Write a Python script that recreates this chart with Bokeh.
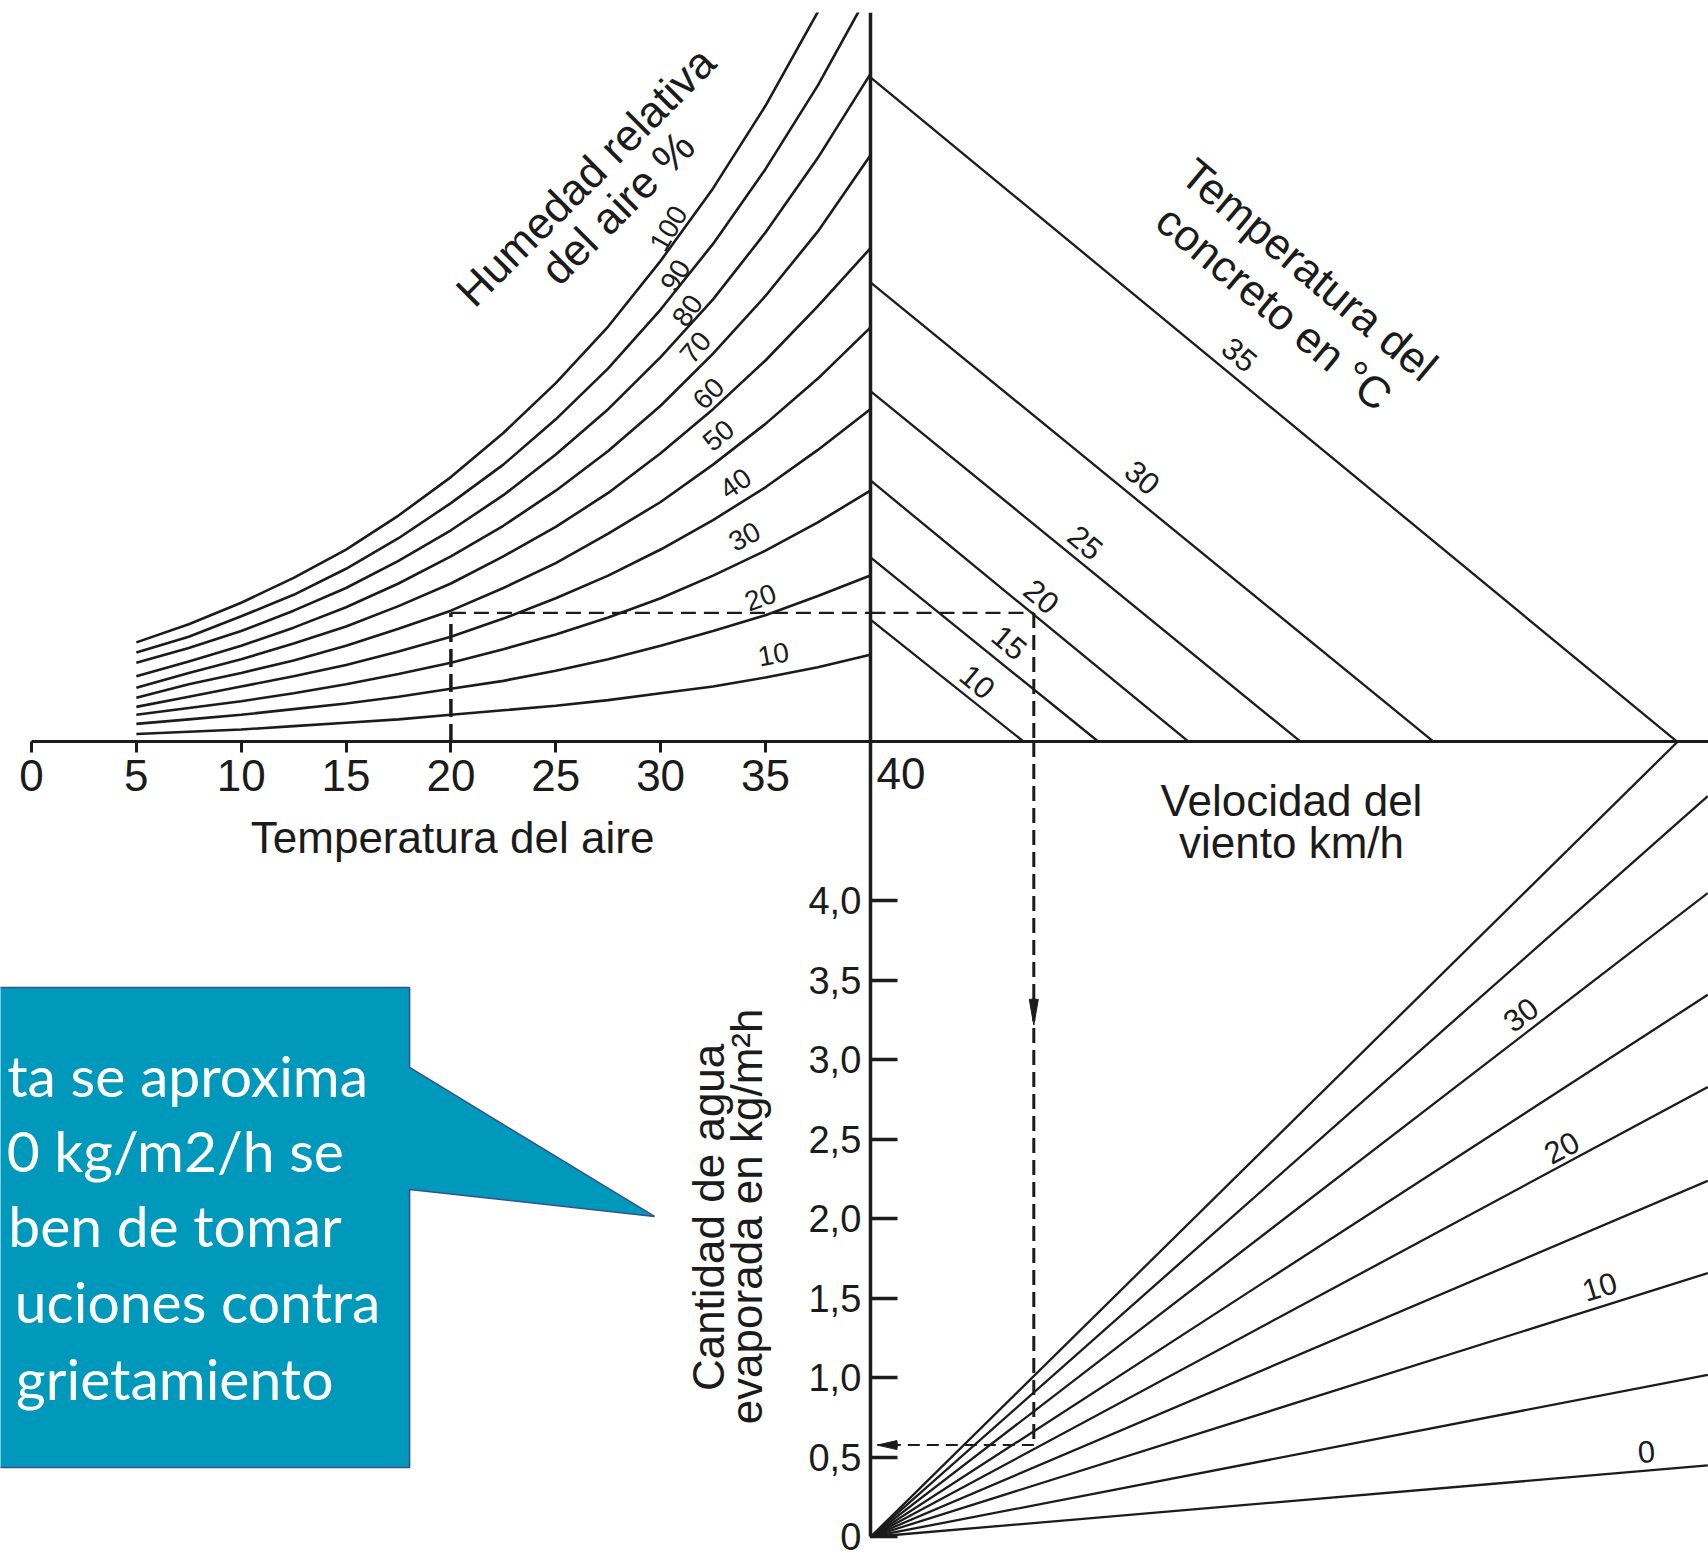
from bokeh.plotting import figure
from bokeh.models import (Range1d, LinearAxis, FixedTicker, Label,
                          CustomJSTickFormatter, ColumnDataSource)
from bokeh.embed import file_html
from bokeh.resources import INLINE
from bokeh.core.properties import value

air_temperature = [5, 7.5, 10, 12.5, 15, 17.5, 20, 22.5, 25, 27.5, 30, 32.5, 35, 37.5, 40]  # °C

# vapour pressure of the air (hPa) along each relative-humidity curve
vp_rh_10 = [0.7, 0.9, 1.1, 1.4, 1.7, 2.0, 2.4, 2.8, 3.2, 3.7, 4.3, 4.9, 5.7, 6.6, 7.7]
vp_rh_20 = [1.6, 2.0, 2.4, 2.9, 3.4, 4.0, 4.7, 5.4, 6.3, 7.3, 8.5, 9.8, 11.2, 12.9, 14.7]
vp_rh_30 = [2.4, 3.0, 3.6, 4.3, 5.1, 6.0, 7.0, 8.2, 9.5, 11.0, 12.7, 14.7, 16.9, 19.4, 22.2]
vp_rh_40 = [3.1, 4.0, 4.9, 5.8, 6.8, 8.0, 9.3, 10.9, 12.7, 14.7, 17.0, 19.6, 22.5, 25.8, 29.4]
vp_rh_50 = [3.9, 5.1, 6.1, 7.2, 8.5, 10.0, 11.6, 13.6, 15.8, 18.4, 21.2, 24.5, 28.1, 32.1, 36.6]
vp_rh_60 = [4.8, 6.1, 7.3, 8.7, 10.2, 12.0, 14.0, 16.4, 19.0, 22.0, 25.5, 29.4, 33.7, 38.5, 43.6]
vp_rh_70 = [5.8, 7.1, 8.5, 10.1, 11.9, 14.0, 16.4, 19.1, 22.2, 25.7, 29.7, 34.3, 39.4, 45.1, 51.8]
vp_rh_80 = [7.0, 8.3, 9.8, 11.6, 13.6, 16.0, 18.7, 21.8, 25.4, 29.4, 34.0, 39.1, 45.0, 51.6, 59.0]
vp_rh_90 = [7.9, 9.3, 11.1, 13.0, 15.3, 18.0, 21.1, 24.5, 28.5, 33.0, 38.2, 44.0, 50.6, 58.0, 66.4]
vp_rh_100 = [8.8, 10.4, 12.3, 14.5, 17.0, 20.0, 23.4, 27.3, 31.7, 36.7, 42.5, 48.9, 56.2, 64.5, 73.8]
relative_humidity = [10, 20, 30, 40, 50, 60, 70, 80, 90, 100]

concrete_temperature = [10, 15, 20, 25, 30, 35]            # °C
concrete_vp_start = [10.8, 16.3, 23.1, 31.0, 40.6, 58.7]    # hPa, on the vertical axis
concrete_dvp_end = [11.1, 16.5, 23.0, 31.1, 40.7, 58.3]     # hPa difference, on the horizontal axis

wind_speed = [0, 5, 10, 15, 20, 25, 30, 35, 40]             # km/h
wind_dvp_end = [60.5, 60.5, 60.5, 60.5, 60.5, 60.5, 60.5, 60.5, 58.3]
wind_evap_end = [0.45, 1.02, 1.66, 2.24, 2.83, 3.41, 4.05, 4.66, 5.0]

temp_ticks = [0, 5, 10, 15, 20, 25, 30, 35]
evap_ticks = [0, 0.5, 1.0, 1.5, 2.0, 2.5, 3.0, 3.5, 4.0]
evap_tick_labels = ["0", "0,5", "1,0", "1,5", "2,0", "2,5", "3,0", "3,5", "4,0"]

# worked example (dashed path)
example_air_temp = 20
example_vp = 11.4
example_dvp = 11.8
example_evap = 0.578

callout_lines = ["ta se aproxima", "0 kg/m2/h se", "ben de tomar",
                 "uciones contra", "grietamiento"]

# ---------------- layout (scales of the four quadrants) ----------------
T_MIN, T_MAX = -1.478, 79.97        # air temperature
E_MIN, E_MAX = -0.129, 9.588        # evaporation kg/m2h
DVP_MIN, DVP_MAX = -62.86, 60.55    # vapour-pressure difference
VP_MIN, VP_MAX = -72.04, 64.44      # vapour pressure
AXIS_E = 5.0                        # level of the horizontal axis in evaporation units
AXIS_T = 40                         # position of the vertical axis in temperature units

INK = "#1b1b1b"
FONT = "Liberation Sans"

p = figure(width=1708, height=1557, output_backend="svg", toolbar_location=None,
           x_range=Range1d(T_MIN, T_MAX), y_range=Range1d(E_MIN, E_MAX),
           x_axis_location=None, y_axis_location=None,
           min_border_left=0, min_border_right=0, min_border_bottom=0, min_border_top=12,
           outline_line_color=None, background_fill_color="white", border_fill_color="white")
p.grid.visible = False
p.extra_x_ranges = {"dvp": Range1d(DVP_MIN, DVP_MAX)}
p.extra_y_ranges = {"vp": Range1d(VP_MIN, VP_MAX)}

# ---- axes ----
t_axis = LinearAxis(fixed_location=AXIS_E, ticker=FixedTicker(ticks=temp_ticks),
                    bounds=(0, T_MAX))
t_axis.axis_line_width = 3
t_axis.axis_line_color = INK
t_axis.major_tick_in = 0
t_axis.major_tick_out = 11
t_axis.major_tick_line_width = 3
t_axis.major_tick_line_color = INK
t_axis.minor_tick_line_color = None
t_axis.major_label_standoff = 7
t_axis.major_label_text_font = FONT
t_axis.major_label_text_font_size = "44px"
t_axis.major_label_text_color = INK
p.add_layout(t_axis, "below")

e_axis = LinearAxis(fixed_location=AXIS_T, ticker=FixedTicker(ticks=evap_ticks),
                    bounds=(0, E_MAX))
e_axis.formatter = CustomJSTickFormatter(
    args=dict(tvals=evap_ticks, tlabels=evap_tick_labels),
    code="const i = tvals.findIndex(t => Math.abs(t - tick) < 1e-9); return i >= 0 ? tlabels[i] : '';")
e_axis.axis_line_width = 3.5
e_axis.axis_line_color = INK
e_axis.major_tick_in = 27
e_axis.major_tick_out = 0
e_axis.major_tick_line_width = 3.5
e_axis.major_tick_line_color = INK
e_axis.minor_tick_line_color = None
e_axis.major_label_standoff = 9
e_axis.major_label_text_font = FONT
e_axis.major_label_text_font_size = "38px"
e_axis.major_label_text_color = INK
p.add_layout(e_axis, "left")

# ---- relative humidity curves ----
rh_curves = [vp_rh_10, vp_rh_20, vp_rh_30, vp_rh_40, vp_rh_50,
             vp_rh_60, vp_rh_70, vp_rh_80, vp_rh_90, vp_rh_100]
p.multi_line(xs=[air_temperature] * len(rh_curves), ys=rh_curves,
             y_range_name="vp", line_color=INK, line_width=2.6)

# ---- concrete temperature lines ----
p.segment(x0=[0] * len(concrete_temperature), y0=concrete_vp_start,
          x1=concrete_dvp_end, y1=[0] * len(concrete_temperature),
          x_range_name="dvp", y_range_name="vp", line_color=INK, line_width=2.3)

# ---- wind speed lines ----
p.segment(x0=[0] * len(wind_speed), y0=[0] * len(wind_speed),
          x1=wind_dvp_end, y1=wind_evap_end,
          x_range_name="dvp", line_color=INK, line_width=2.3)

# ---- worked example (dashed) ----
p.line([example_air_temp, example_air_temp], [0, example_vp], y_range_name="vp",
       line_color=INK, line_width=3.5, line_dash="18 7")
p.line([example_air_temp, AXIS_T], [example_vp, example_vp], y_range_name="vp",
       line_color=INK, line_width=2.2, line_dash="15 8")
p.line([0, example_dvp], [example_vp, example_vp], x_range_name="dvp", y_range_name="vp",
       line_color=INK, line_width=2.2, line_dash="15 8")
p.line([example_dvp, example_dvp], [example_vp, 0], x_range_name="dvp", y_range_name="vp",
       line_color=INK, line_width=3, line_dash="15 7")
p.line([example_dvp, example_dvp], [AXIS_E, example_evap], x_range_name="dvp",
       line_color=INK, line_width=3, line_dash="15 7")
p.line([example_dvp, 0.5], [example_evap, example_evap], x_range_name="dvp",
       line_color=INK, line_width=2, line_dash="12 7")
# arrow heads
p.wedge(x=[example_dvp], y=[3.22], radius=26, radius_units="screen",
        start_angle=80, end_angle=100, start_angle_units="deg", end_angle_units="deg",
        x_range_name="dvp", fill_color=INK, line_color=INK, line_width=1)
p.wedge(x=[0.5], y=[example_evap], radius=20, radius_units="screen",
        start_angle=-13, end_angle=13, start_angle_units="deg", end_angle_units="deg",
        x_range_name="dvp", fill_color=INK, line_color=INK, line_width=1)

# ---- callout ----
p.patch(x=[-5, 18.03, 18.03, 29.71, 18.03, 18.03, -5],
        y=[3.456, 3.456, 2.953, 2.016, 2.186, 0.437, 0.437],
        fill_color="#0098BB", line_color="#34508F", line_width=1.5)
p.text(x=[16.05, 14.90, 14.80, 16.64, 14.40], y=[2.906, 2.434, 1.963, 1.483, 0.998],
       text=callout_lines, text_font=value("Lato"), text_font_size=value("57px"),
       text_color="white", text_align="right", text_baseline="alphabetic")

# ---- small labels on the families of lines ----
rh_src = ColumnDataSource(dict(
    x=[35.38, 34.76, 34.00, 33.57, 32.76, 32.28, 31.66, 31.28, 30.71, 30.38],
    y=[7.73, 12.76, 18.15, 22.84, 27.08, 30.79, 34.86, 38.12, 41.21, 45.36],
    text=[str(v) for v in relative_humidity],
    angle=[10, 20, 28, 35, 40, 45, 50, 55, 58, 60]))
p.text(x="x", y="y", text="text", angle="angle", angle_units="deg", source=rh_src,
       y_range_name="vp", text_font=value(FONT), text_font_size=value("28px"),
       text_color=INK, text_align="center", text_baseline="middle")

ct_src = ColumnDataSource(dict(
    x=[7.73, 10.04, 12.36, 15.53, 19.65, 26.66],
    y=[5.34, 8.79, 12.85, 17.62, 23.37, 34.23],
    text=[str(v) for v in concrete_temperature]))
p.text(x="x", y="y", text="text", angle=-40, angle_units="deg", source=ct_src,
       x_range_name="dvp", y_range_name="vp", text_font=value(FONT),
       text_font_size=value("31px"), text_color=INK, text_align="center",
       text_baseline="middle")

ws_src = ColumnDataSource(dict(
    x=[56.07, 52.67, 49.93, 46.97],
    y=[0.538, 1.575, 2.450, 3.286],
    text=[str(wind_speed[i]) for i in (0, 2, 4, 6)],
    angle=[5, 17, 28, 37]))
p.text(x="x", y="y", text="text", angle="angle", angle_units="deg", source=ws_src,
       x_range_name="dvp", text_font=value(FONT), text_font_size=value("31px"),
       text_color=INK, text_align="center", text_baseline="middle")

# ---- titles ----
def add_label(text, x, y, size="44px", angle=0, align="center", baseline="middle",
              xr="default", yr="default"):
    p.add_layout(Label(x=x, y=y, text=text, angle=angle, angle_units="deg",
                       x_range_name=xr, y_range_name=yr, text_font=FONT,
                       text_font_size=size, text_color=INK, text_align=align,
                       text_baseline=baseline))

add_label("40", 40.3, 4.90, size="44px", align="left", baseline="top")
add_label("Temperatura del aire", 20.08, 4.40, baseline="alphabetic")
add_label("Velocidad del", 30.42, 4.63, baseline="alphabetic", xr="dvp")
add_label("viento km/h", 30.42, 4.371, baseline="alphabetic", xr="dvp")
add_label("Humedad relativa", 26.42, 49.96, angle=45, yr="vp")
add_label("del aire %", 27.94, 47.22, angle=45, yr="vp")
add_label("Temperatura del", 31.72, 41.74, angle=-40, xr="dvp", yr="vp")
add_label("concreto en °C", 29.19, 38.38, angle=-40, xr="dvp", yr="vp")
add_label("Cantidad de agua", 32.28, 2.010, angle=90)
add_label("evaporada en kg/m²h", 34.10, 2.016, angle=90)

open("out.html", "w").write(file_html(p, INLINE))
